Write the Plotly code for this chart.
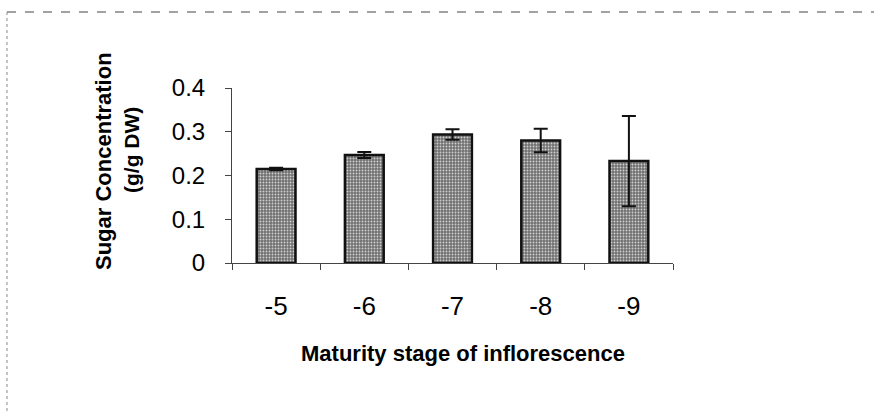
import plotly.graph_objects as go

# Data
stages = ["-5", "-6", "-7", "-8", "-9"]
sugar = [0.215, 0.247, 0.294, 0.280, 0.233]
sugar_err = [0.003, 0.007, 0.012, 0.027, 0.103]
y_ticks = [0, 0.1, 0.2, 0.3, 0.4]
y_tick_text = ["0", "0.1", "0.2", "0.3", "0.4"]

FONT = "Liberation Sans, Arial, sans-serif"

# plot-area pixel geometry (874x411 canvas)
L, R, T, B = 232, 201, 88, 148
PW = 874 - L - R
PH = 411 - T - B


def px_x(px):
    return (px - L) / PW


def px_y(py):
    return (411 - B - py) / PH


fig = go.Figure()
fig.add_trace(go.Bar(
    x=stages,
    y=sugar,
    error_y=dict(type="data", array=sugar_err, symmetric=True,
                 color="#111111", thickness=2, width=7),
    marker=dict(
        color="#707070",
        line=dict(color="#111111", width=2.5),
        pattern=dict(shape=".", fgcolor="#d0d0d0", bgcolor="#707070",
                     size=3, solidity=0.3, fillmode="replace"),
    ),
    width=0.44,
    showlegend=False,
))

fig.update_layout(
    width=874, height=411,
    margin=dict(l=L, r=R, t=T, b=B),
    paper_bgcolor="white",
    plot_bgcolor="white",
    font=dict(family=FONT, color="black"),
    xaxis=dict(
        type="category",
        showgrid=False,
        showline=True, linecolor="#444444", linewidth=1,
        ticks="outside", tickson="boundaries", ticklen=6,
        tickcolor="#444444",
        tickfont=dict(size=26, family=FONT, color="black"),
        ticklabelstandoff=20,
    ),
    yaxis=dict(
        range=[0, 0.4],
        tickvals=y_ticks, ticktext=y_tick_text,
        showgrid=False, zeroline=False,
        showline=True, linecolor="#444444", linewidth=1,
        ticks="outside", ticklen=6, tickcolor="#444444",
        tickfont=dict(size=24, family=FONT, color="black"),
        ticklabelstandoff=15,
    ),
)

# Axis titles
fig.add_annotation(
    text="<b>Sugar Concentration</b>", textangle=-90,
    x=px_x(103), y=px_y(161), xref="paper", yref="paper",
    xanchor="center", yanchor="middle", showarrow=False,
    font=dict(size=22, family=FONT, color="black"),
)
fig.add_annotation(
    text="<b>(g/g DW)</b>", textangle=-90,
    x=px_x(131), y=px_y(150), xref="paper", yref="paper",
    xanchor="center", yanchor="middle", showarrow=False,
    font=dict(size=21, family=FONT, color="black"),
)
fig.add_annotation(
    text="<b>Maturity stage of inflorescence</b>",
    x=px_x(463), y=px_y(353), xref="paper", yref="paper",
    xanchor="center", yanchor="middle", showarrow=False,
    font=dict(size=22, family=FONT, color="black"),
)

# Scanned frame (top and left dashed border)
fig.add_shape(type="line", xref="paper", yref="paper",
              x0=px_x(7), x1=px_x(874), y0=px_y(12), y1=px_y(12),
              line=dict(color="#444444", width=1, dash="dash"))
fig.add_shape(type="line", xref="paper", yref="paper",
              x0=px_x(7), x1=px_x(7), y0=px_y(12), y1=px_y(411),
              line=dict(color="#888888", width=1, dash="dot"))

fig.write_html("out.html")
